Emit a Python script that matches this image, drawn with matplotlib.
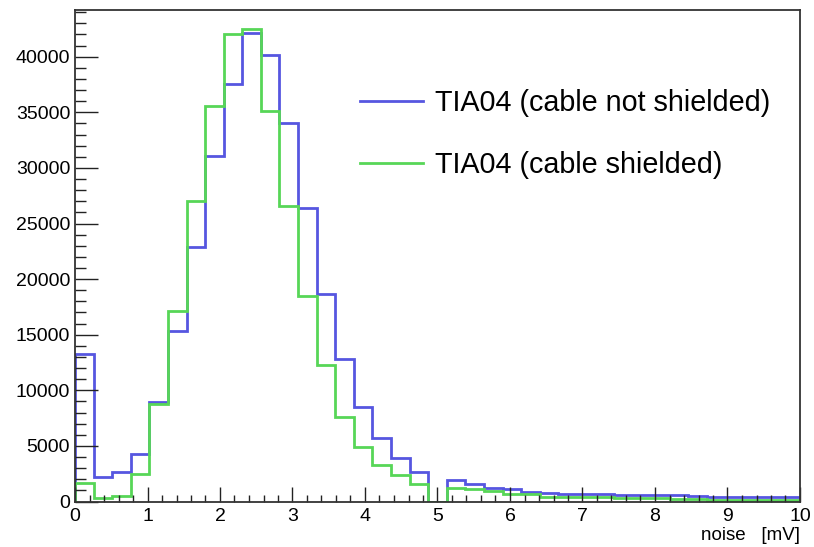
import numpy as np
import matplotlib
matplotlib.use("Agg")
import matplotlib.pyplot as plt
from matplotlib.ticker import MultipleLocator

plt.rcParams['font.family'] = ['Liberation Sans', 'DejaVu Sans']

# Histogram binning (39 bins from 0 to 10 mV)
x_min, x_max, n_bins = 0.0, 10.0, 39

not_shielded = [13300, 2170, 2620, 4240, 8910, 15350, 22890, 31040, 37570, 42150,
                40180, 34030, 26400, 18700, 12800, 8460, 5680, 3880, 2620, 0,
                1930, 1570, 1240, 1120, 880, 740, 650, 650, 650, 560,
                560, 560, 560, 470, 380, 380, 380, 380, 380]
shielded = [1690, 340, 520, 2500, 8730, 17120, 27000, 35530, 42000, 42450,
            35080, 26580, 18460, 12260, 7620, 4920, 3280, 2380, 1570, 0,
            1240, 1100, 900, 670, 670, 430, 430, 430, 430, 310,
            310, 310, 200, 250, 110, 110, 110, 110, 110]

labels = ["TIA04 (cable not shielded)", "TIA04 (cable shielded)"]
colors = ["#5656e0", "#57d657"]

edges = np.linspace(x_min, x_max, n_bins + 1)

W, H = 814, 547
fig = plt.figure(figsize=(W / 100, H / 100), dpi=100)
ax = fig.add_axes([75 / W, 1 - 501.5 / H, 725 / W, 491.5 / H])

ax.stairs(not_shielded, edges, color=colors[0], linewidth=2.0, label=labels[0])
ax.stairs(shielded, edges, color=colors[1], linewidth=2.0, label=labels[1])

ax.set_xlim(x_min, x_max)
ax.set_ylim(0, 44200)

ax.xaxis.set_major_locator(MultipleLocator(1))
ax.xaxis.set_minor_locator(MultipleLocator(0.2))
ax.yaxis.set_major_locator(MultipleLocator(5000))
ax.yaxis.set_minor_locator(MultipleLocator(1000))

ax.tick_params(axis='x', which='major', direction='in', length=10.8, width=1.0,
               labelsize=14, pad=5, top=False, color='#222222')
ax.tick_params(axis='x', which='minor', direction='in', length=5, width=1.0,
               top=False, color='#222222')
ax.tick_params(axis='y', which='major', direction='in', length=16.5, width=1.0,
               labelsize=14, pad=3.5, right=False, color='#222222')
ax.tick_params(axis='y', which='minor', direction='in', length=8, width=1.0,
               right=False, color='#222222')

for s in ax.spines.values():
    s.set_linewidth(1.3)
    s.set_color('#333333')

ax.set_xlabel("noise   [mV]", loc='right', fontsize=13.5, labelpad=1)

ax.legend(loc='upper left', bbox_to_anchor=(0.377, 0.862), frameon=False,
          fontsize=20.7, handlelength=2.2, handletextpad=0.4, labelspacing=1.18,
          borderaxespad=0)

fig.savefig("out.png", dpi=100, facecolor='white')
